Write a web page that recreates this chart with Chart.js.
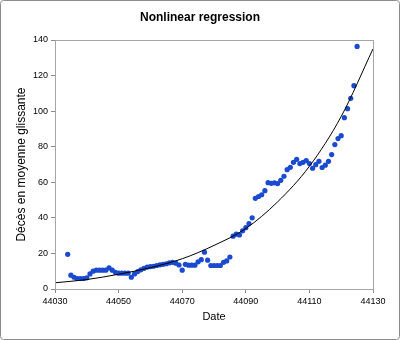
<!DOCTYPE html>
<html>
<head>
<meta charset="utf-8">
<script src="https://cdn.jsdelivr.net/npm/chart.js@4/dist/chart.umd.min.js"></script>
<style>
html,body{margin:0;padding:0;background:#fff;}
#wrap{width:400px;height:340px;position:relative;}
</style>
</head>
<body>
<div id="wrap"><canvas id="c" width="400" height="340"></canvas></div>
<script>
const chartTitle = "Nonlinear regression";
const xTitle = "Date";
const yTitle = "Décès en moyenne glissante";
const xTicks = [44030, 44050, 44070, 44090, 44110, 44130];
const yTicks = [0, 20, 40, 60, 80, 100, 120, 140];

const days = [
44034,44035,44036,44037,44038,44039,44040,44041,44042,44043,
44044,44045,44046,44047,44048,44049,44050,44051,44052,44053,
44054,44055,44056,44057,44058,44059,44060,44061,44062,44063,
44064,44065,44066,44067,44068,44069,44070,44071,44072,44073,
44074,44075,44076,44077,44078,44079,44080,44081,44082,44083,
44084,44085,44086,44087,44088,44089,44090,44091,44092,44093,
44094,44095,44096,44097,44098,44099,44100,44101,44102,44103,
44104,44105,44106,44107,44108,44109,44110,44111,44112,44113,
44114,44115,44116,44117,44118,44119,44120,44121,44122,44123,
44124,44125];
const deaths = [
19.5,7.8,6.6,5.9,5.9,5.9,6.3,8.5,10,10.6,
10.6,10.6,10.6,11.9,10.6,9.4,8.9,8.9,8.9,8.9,
6.6,8.5,9.8,10.8,11.6,12.3,12.6,12.8,13.2,13.6,
13.9,14.2,14.7,15,14.5,13.5,10.6,13.9,13.4,13.4,
13.4,15.3,16.5,20.7,16.2,13.2,13.2,13.2,13.2,15,
15.8,18,29.7,30.8,30.4,32.7,34.5,36.8,40,51,
52,53,55.3,59.8,59.4,59.7,59.3,61.1,63.4,67.1,
68.4,71.2,72.9,70.5,71.2,72.2,70.5,67.9,69.9,71.8,
68.3,69.6,71.8,75.6,81.2,84.6,86.2,96.3,101.4,107.2,
114.3,136.4];

const trendDays = [44030,44040,44050,44060,44070,44080,44090,44100,44110,44120,44130];
const trendValues = [3.5,5.3,8.3,12,17,24.5,34,49,69,97,135];

const frame = {
  id: 'frame',
  afterDatasetsDraw(chart) {
    const {ctx, chartArea: a} = chart;
    ctx.save();
    ctx.strokeStyle = '#a6a6a6';
    ctx.lineWidth = 1;
    ctx.strokeRect(Math.round(a.left) + 0.5, Math.round(a.top) + 0.5,
      Math.round(a.right - a.left), Math.round(a.bottom - a.top));
    ctx.restore();
  },
  afterDraw(chart) {
    const ctx = chart.ctx;
    ctx.save();
    ctx.strokeStyle = '#8c8c8c';
    ctx.lineWidth = 1;
    ctx.beginPath();
    if (ctx.roundRect) ctx.roundRect(0.5, 0.5, 399, 339, 3); else ctx.rect(0.5,0.5,399,339);
    ctx.stroke();
    ctx.fillStyle = '#000';
    ctx.font = 'bold 12px "Liberation Sans", Arial, sans-serif';
    ctx.textAlign = 'center';
    ctx.textBaseline = 'middle';
    ctx.fillText(chartTitle, 200, 18);
    ctx.restore();
  }
};

const tickFont = {family: '"Liberation Sans", Arial, sans-serif', size: 9};
const xTitleFont = {family: '"Liberation Sans", Arial, sans-serif', size: 11};
const yTitleFont = {family: '"Liberation Sans", Arial, sans-serif', size: 12};

new Chart(document.getElementById('c'), {
  type: 'scatter',
  data: {
    datasets: [
      {
        label: 'Trend',
        data: trendDays.map((d, i) => ({x: d, y: trendValues[i]})),
        showLine: true,
        borderColor: '#000',
        borderWidth: 1,
        pointRadius: 0,
        cubicInterpolationMode: 'monotone',
        order: 0
      },
      {
        label: 'Décès',
        data: days.map((d, i) => ({x: d, y: deaths[i]})),
        backgroundColor: '#1a4ad0',
        borderColor: '#1a4ad0',
        pointRadius: 2.6,
        pointBorderWidth: 0,
        order: 1
      }
    ]
  },
  options: {
    responsive: false,
    animation: false,
    layout: {padding: {top: 40, right: 27, left: 0, bottom: 0}},
    plugins: {legend: {display: false}, tooltip: {enabled: false}, title: {display: false}},
    scales: {
      x: {
        type: 'linear',
        min: xTicks[0], max: xTicks[xTicks.length - 1],
        afterBuildTicks: s => { s.ticks = xTicks.map(v => ({value: v})); },
        afterFit: s => { s.height = 51; },
        ticks: {callback: v => String(v), font: tickFont, color: '#000', padding: 3, maxRotation: 0, autoSkip: false},
        grid: {display: true, drawOnChartArea: false, tickLength: 4, color: '#8c8c8c'},
        border: {color: '#8c8c8c'},
        title: {display: true, text: xTitle, font: xTitleFont, color: '#000', padding: {top: 0, bottom: 16}}
      },
      y: {
        type: 'linear',
        min: yTicks[0], max: yTicks[yTicks.length - 1],
        afterBuildTicks: s => { s.ticks = yTicks.map(v => ({value: v})); },
        afterFit: s => { s.width = 55; },
        ticks: {callback: v => String(v), font: tickFont, color: '#000', padding: 3},
        grid: {display: true, drawOnChartArea: false, tickLength: 4, color: '#8c8c8c'},
        border: {color: '#8c8c8c'},
        title: {display: true, text: yTitle, font: yTitleFont, color: '#000', padding: {top: 14, bottom: 0}}
      }
    }
  },
  plugins: [frame]
});
</script>
</body>
</html>
